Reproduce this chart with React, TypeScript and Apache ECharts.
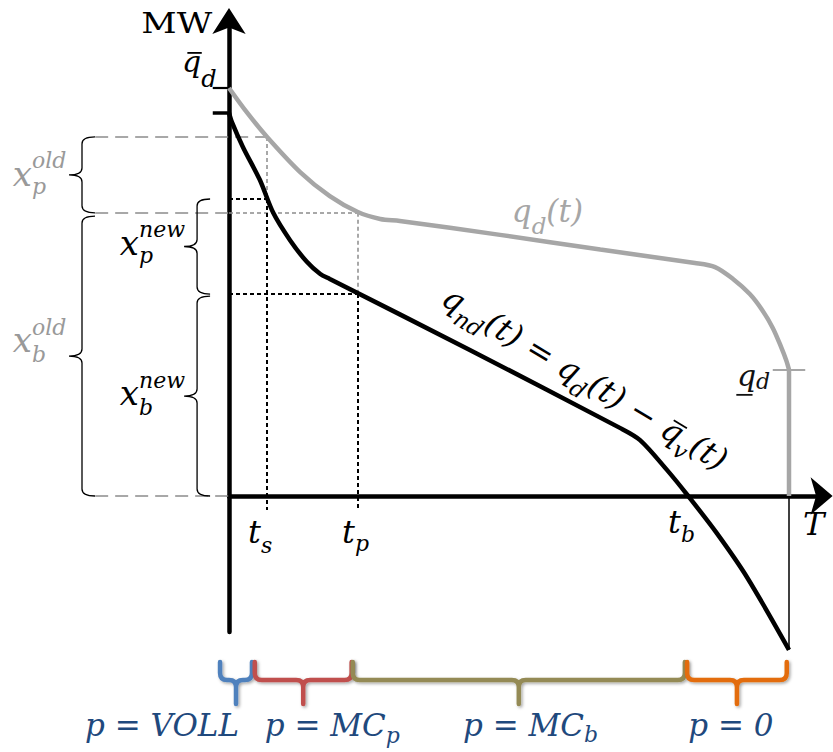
import React, { useEffect, useRef } from 'react';
import * as echarts from 'echarts';

// ---------- data (time in % of T, power with q̄d = 100) ----------
const qdT = [0, 3.2, 6.8, 12.7, 18.0, 23.0, 27.0, 30.5, 48.4, 66.3, 83.2, 86.8, 90.0, 93.0, 95.2, 97.1, 98.6, 99.5, 100];
const qdY = [100, 94.0, 88.0, 79.4, 73.5, 69.6, 67.9, 67.4, 64.0, 60.4, 57.1, 56.1, 53.2, 49.5, 45.6, 41.2, 36.5, 33.3, 31.0];
const qndT = [0, 0.5, 2.5, 5.5, 7.9, 10.9, 13.9, 16.3, 18.0, 43.0, 69.8, 73.4, 78.2, 82.0, 87.1, 92.5, 100];
const qndY = [93.9, 91.7, 85.5, 77.5, 69.4, 62.7, 57.4, 54.4, 53.2, 35.8, 16.7, 13.7, 6.4, 0, -9.1, -19.9, -37.7];

const timeNames = ['t_s', 't_p', 't_b', 'T'];
const timeValues = [6.8, 23.0, 82.0, 100];

const levelNames = ['qdMax', 'qndMax', 'xpOldTop', 'xpNewTop', 'xpOldBottom', 'xpNewBottom', 'qdMin'];
const levelValues = [100, 93.9, 88.0, 72.8, 69.4, 49.5, 31.0];

const priceLabels = ['VOLL', 'MC_p', 'MC_b', '0'];
const priceRanges = [[-1.6, 4.1], [4.6, 21.9], [22.1, 81.4], [81.8, 99.6]];
const priceColors = ['#4F81BD', '#C0504D', '#948A54', '#E36C09'];

const L = (n: string) => levelValues[levelNames.indexOf(n)];
const TV = (n: string) => timeValues[timeNames.indexOf(n)];

const MATH = 'DejaVu Serif';
const GRAY_LINE = '#A6A6A6';
const GRAY_TEXT = '#999999';
const BLUE_TEXT = '#1F497D';

const zip = (a: number[], b: number[]) => a.map((v, i) => [v, b[i]]);

// ---------- math text layout ----------
type Tok = { t: string; sz: number; dy?: number; roman?: boolean; bar?: boolean; ul?: boolean; back?: boolean; gap?: number };
let mctx: CanvasRenderingContext2D | null = null;
function tw(t: string, font: string) {
  if (!mctx) mctx = document.createElement('canvas').getContext('2d');
  mctx!.font = font;
  return mctx!.measureText(t).width;
}
function buildMath(tokens: Tok[], color: string, fam: string) {
  const children: any[] = [];
  let cx = 0;
  let prevStart = 0;
  tokens.forEach((tok) => {
    const style = tok.roman ? 'normal' : 'italic';
    const font = `${style} normal ${tok.sz}px "${fam}"`;
    const w = tw(tok.t, font);
    const start = tok.back ? prevStart : cx + (tok.gap || 0);
    const dy = tok.dy || 0;
    children.push({
      type: 'text',
      silent: true,
      style: {
        text: tok.t, x: start, y: dy - 0.34 * tok.sz,
        font,
        fill: color,
        align: 'left', verticalAlign: 'middle', textAlign: 'left', textVerticalAlign: 'middle',
      },
    });
    if (tok.bar) {
      children.push({ type: 'line', silent: true, shape: { x1: start + 0.18 * tok.sz, y1: dy - 0.64 * tok.sz, x2: start + w + 0.02 * tok.sz, y2: dy - 0.64 * tok.sz }, style: { stroke: color, lineWidth: 1.8 } });
    }
    if (tok.ul) {
      children.push({ type: 'line', silent: true, shape: { x1: start - 0.02 * tok.sz, y1: dy + 0.3 * tok.sz, x2: start + w - 0.12 * tok.sz, y2: dy + 0.3 * tok.sz }, style: { stroke: color, lineWidth: 1.8 } });
    }
    prevStart = start;
    cx = Math.max(cx, start + w);
  });
  return { children, width: cx };
}

type LabelSpec = { x: number; y: number; tokens: Tok[]; color: string; fam?: string; rot?: number; scaleX?: number; alignRight?: boolean };

const sub = (t: string, dy = 8, sz = 22): Tok => ({ t, sz, dy });
const priceTokens = (name: string): Tok[] => {
  const [main, s] = name.split('_');
  const toks: Tok[] = [{ t: 'p = ' + main, sz: 31 }];
  if (s) toks.push(sub(s, s === 'b' ? 7 : 8, 22));
  return toks;
};

const LABELS: LabelSpec[] = [
  { x: -3.0, y: 113.7, tokens: [{ t: 'MW', sz: 27, roman: true }], color: '#000', scaleX: 1.28, alignRight: true },
  { x: -8.4, y: 103.9, tokens: [{ t: 'q', sz: 30, bar: true }, { t: 'd', sz: 24, dy: 15 }], color: '#000' },
  { x: -38.6, y: 76.2, tokens: [{ t: 'x', sz: 34 }, { t: 'old', sz: 22, dy: -17 }, { t: 'p', sz: 22, dy: 9, back: true }], color: GRAY_TEXT },
  { x: -38.6, y: 35.3, tokens: [{ t: 'x', sz: 34 }, { t: 'old', sz: 22, dy: -17 }, { t: 'b', sz: 22, dy: 10, back: true }], color: GRAY_TEXT },
  { x: -19.5, y: 59.3, tokens: [{ t: 'x', sz: 34 }, { t: 'new', sz: 22, dy: -17 }, { t: 'p', sz: 22, dy: 9, back: true }], color: '#000' },
  { x: -19.5, y: 22.3, tokens: [{ t: 'x', sz: 34 }, { t: 'new', sz: 22, dy: -17 }, { t: 'b', sz: 22, dy: 10, back: true }], color: '#000' },
  { x: TV('t_s') - 3.4, y: -11.5, tokens: [{ t: 't', sz: 32 }, sub('s', 10)], color: '#000' },
  { x: TV('t_p') - 2.8, y: -11.5, tokens: [{ t: 't', sz: 32 }, sub('p', 8)], color: '#000' },
  { x: TV('t_b') - 3.6, y: -9.1, tokens: [{ t: 't', sz: 32 }, sub('b', 9)], color: '#000' },
  { x: TV('T') + 2.5, y: -9.6, tokens: [{ t: 'T', sz: 32 }], color: '#000' },
  { x: 50.5, y: 67.2, tokens: [{ t: 'q', sz: 31 }, sub('d', 12, 23), { t: '(t)', sz: 31 }], color: GRAY_LINE },
  { x: 90.7, y: 27.0, tokens: [{ t: 'q', sz: 30, ul: true }, sub('d', 3)], color: '#111' },
  {
    x: 37.6, y: 47.2, rot: (-31 * Math.PI) / 180, color: '#000',
    tokens: [
      { t: 'q', sz: 32 }, sub('nd', 10, 23), { t: '(t) = q', sz: 32 }, sub('d', 10, 23), { t: '(t) − ', sz: 32 },
      { t: 'q', sz: 32, bar: true }, sub('v', 10, 23), { t: '(t)', sz: 32 },
    ],
  },
  ...priceLabels.map((p, i) => ({ x: [-25.7, 6.4, 41.8, 82.0][i], y: -58.6, tokens: priceTokens(p), color: BLUE_TEXT })),
];

const lineSeg = (coords: number[][][], color: string, width: number, type: any, z = 2) => ({
  type: 'lines',
  coordinateSystem: 'cartesian2d',
  clip: false,
  silent: true,
  z,
  data: coords.map((c) => ({ coords: c })),
  lineStyle: { color, width, type, opacity: 1, curveness: 0 },
  effect: { show: false },
});

export default function App() {
  const ref = useRef<HTMLDivElement>(null);
  useEffect(() => {
    const chart = echarts.init(ref.current!, null, { renderer: 'svg' });
    const tS = TV('t_s'), tP = TV('t_p'), T = TV('T');
    const leftX = -23.9;
    const option: any = {
      animation: false,
      backgroundColor: '#fff',
      grid: { left: 229, top: 20, width: 593.6, height: 612, outerBoundsMode: 'none', containLabel: false },
      xAxis: {
        type: 'value', min: 0, max: 106,
        axisLine: { show: true, onZero: true, symbol: ['none', 'arrow'], symbolSize: [28, 22], symbolOffset: [0, 10], lineStyle: { color: '#000', width: 4.5 } },
        axisTick: { show: false }, axisLabel: { show: false }, splitLine: { show: false },
      },
      yAxis: {
        type: 'value', min: -33.33, max: 116.67,
        axisLine: { show: true, symbol: ['none', 'arrow'], symbolSize: [25, 26], symbolOffset: [0, 12], lineStyle: { color: '#000', width: 4.5 } },
        axisTick: { show: false }, axisLabel: { show: false }, splitLine: { show: false },
      },
      series: [
        lineSeg([[[leftX, L('xpOldTop')], [tS, L('xpOldTop')]], [[leftX, L('xpOldBottom')], [0, L('xpOldBottom')]], [[leftX, 0], [0, 0]]], '#8C8C8C', 1.5, [13, 7]),
        lineSeg([[[0, L('xpOldBottom')], [tP, L('xpOldBottom')]], [[tS, L('xpOldTop')], [tS, L('xpNewTop')]], [[tP, L('xpOldBottom')], [tP, L('xpNewBottom')]]], '#8C8C8C', 1.5, [4, 3]),
        lineSeg([[[0, L('xpNewTop')], [tS, L('xpNewTop')]], [[0, L('xpNewBottom')], [tP, L('xpNewBottom')]], [[tS, L('xpNewTop')], [tS, -3.4]], [[tP, L('xpNewBottom')], [tP, -3.4]]], '#000', 2, [4, 3]),
        lineSeg([[[-2.9, L('qdMax')], [0, L('qdMax')]]], '#000', 2.2, 'solid', 4),
        lineSeg([[[-2.9, L('qndMax')], [0, L('qndMax')]]], '#000', 3.5, 'solid', 4),
        lineSeg([[[T - 2.9, L('qdMin')], [T + 2.9, L('qdMin')]]], GRAY_LINE, 2, 'solid', 4),
        lineSeg([[[T, 0], [T, qndY[qndY.length - 1]]]], '#000', 1.5, 'solid', 3),
        {
          type: 'line', data: zip(qdT, qdY), smooth: 0.3, symbol: 'none', clip: false, z: 5,
          lineStyle: { color: GRAY_LINE, width: 4.5 },
        },
        {
          type: 'line', data: [[T, L('qdMin')], [T, 0]], symbol: 'none', clip: false, z: 5,
          lineStyle: { color: GRAY_LINE, width: 4.5 },
        },
        {
          type: 'line', data: zip(qndT, qndY), smooth: 0.3, symbol: 'none', clip: false, z: 6,
          lineStyle: { color: '#000', width: 4.5 },
        },
        {
          type: 'custom', coordinateSystem: 'cartesian2d', clip: false, silent: true, z: 4,
          data: [
            [-26.25, L('xpOldTop'), L('xpOldBottom')],
            [-26.25, L('xpOldBottom') - 0.8, 0],
            [-5.7, L('xpNewTop'), L('xpNewBottom')],
            [-5.7, L('xpNewBottom') - 0.5, 0],
          ],
          renderItem: (_p: any, api: any) => {
            const [x, y1] = api.coord([api.value(0), api.value(1)]);
            const [, y2] = api.coord([api.value(0), api.value(2)]);
            const m = (y1 + y2) / 2, c = 13, t = 13, r = 7;
            const d = `M${x + c},${y1} Q${x},${y1} ${x},${y1 + r} L${x},${m - r} Q${x},${m} ${x - t},${m} Q${x},${m} ${x},${m + r} L${x},${y2 - r} Q${x},${y2} ${x + c},${y2}`;
            return { type: 'path', shape: { pathData: d }, style: { fill: 'none', stroke: '#000', lineWidth: 1.3 } };
          },
        },
        {
          type: 'custom', coordinateSystem: 'cartesian2d', clip: false, silent: true, z: 4,
          data: priceRanges.map((r) => [r[0], -45.1, r[1]]),
          renderItem: (p: any, api: any) => {
            const [x1, y] = api.coord([api.value(0), api.value(1)]);
            const [x2] = api.coord([api.value(2), api.value(1)]);
            const mx = (x1 + x2) / 2, u = 18, dn = 24, r = 7;
            const d = `M${x1},${y - u} L${x1},${y - r} Q${x1},${y} ${x1 + r},${y} L${mx - r},${y} Q${mx},${y} ${mx},${y + r} L${mx},${y + dn} M${mx},${y + r} Q${mx},${y} ${mx + r},${y} L${x2 - r},${y} Q${x2},${y} ${x2},${y - r} L${x2},${y - u}`;
            return {
              type: 'path', shape: { pathData: d },
              style: { fill: 'none', stroke: priceColors[p.dataIndex], lineWidth: 4.5, lineCap: 'round', shadowBlur: 3, shadowColor: 'rgba(0,0,0,0.35)', shadowOffsetX: 1.5, shadowOffsetY: 1.5 },
            };
          },
        },
      ],
    };
    chart.setOption(option);
    const graphics = LABELS.map((l) => {
      const [px, py] = chart.convertToPixel({ gridIndex: 0 }, [l.x, l.y]) as number[];
      const { children, width } = buildMath(l.tokens, l.color, l.fam || MATH);
      const sx = l.scaleX || 1;
      return {
        type: 'group', silent: true,
        x: l.alignRight ? px - width * sx : px, y: py,
        rotation: l.rot || 0, scaleX: sx, scaleY: 1,
        children,
      };
    });
    chart.setOption({ graphic: graphics });
    return () => chart.dispose();
  }, []);
  return <div ref={ref} style={{ position: 'absolute', left: 0, top: 0, width: 833, height: 752, background: '#fff' }} />;
}
